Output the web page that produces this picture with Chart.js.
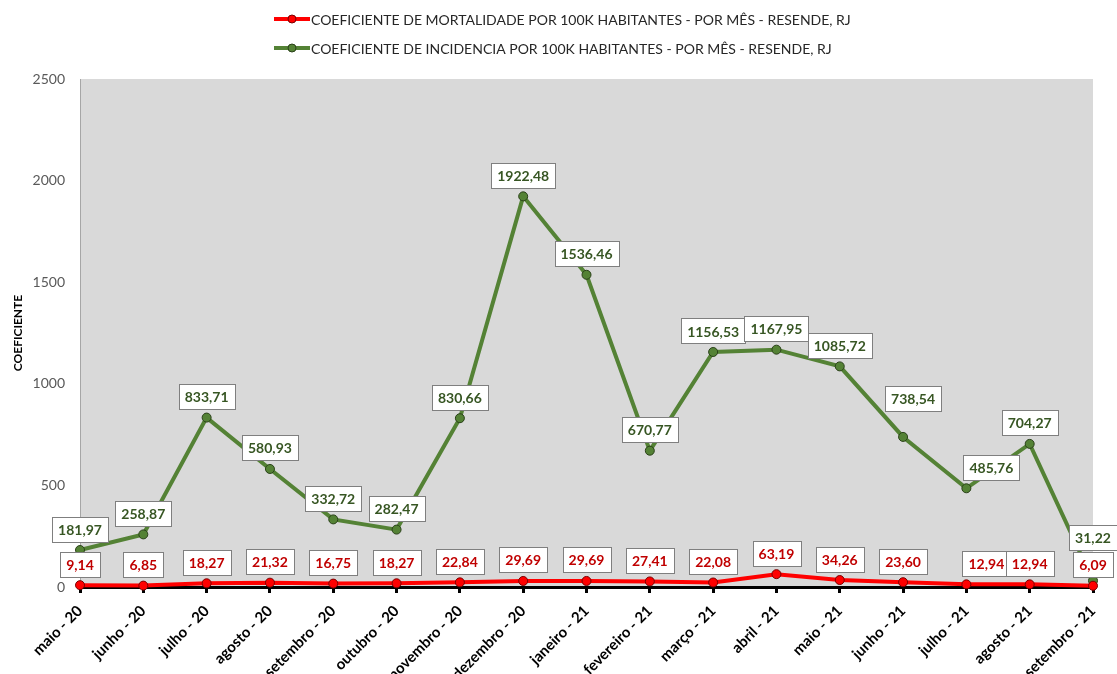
<!DOCTYPE html>
<html><head><meta charset="utf-8">
<script src="https://cdn.jsdelivr.net/npm/chart.js@4"></script>
<style>html,body{margin:0;padding:0;background:#fff}</style>
</head><body>
<canvas id="c" width="1117" height="674"></canvas>
<script>
const categories = ['maio - 20','junho - 20','julho - 20','agosto - 20','setembro - 20','outubro - 20','novembro - 20','dezembro - 20','janeiro - 21','fevereiro - 21','março - 21','abril - 21','maio - 21','junho - 21','julho - 21','agosto - 21','setembro - 21'];
const mortalidade = [9.14,6.85,18.27,21.32,16.75,18.27,22.84,29.69,29.69,27.41,22.08,63.19,34.26,23.60,12.94,12.94,6.09];
const incidencia = [181.97,258.87,833.71,580.93,332.72,282.47,830.66,1922.48,1536.46,670.77,1156.53,1167.95,1085.72,738.54,485.76,704.27,31.22];
const yTicks = [0,500,1000,1500,2000,2500];
const seriesNames = ['COEFICIENTE DE MORTALIDADE POR 100K HABITANTES - POR MÊS - RESENDE, RJ','COEFICIENTE DE INCIDENCIA POR 100K HABITANTES - POR MÊS - RESENDE, RJ'];
const yTitle = 'COEFICIENTE';

// label nudges (dx, dy) for data labels that were moved in the original
const labelNudge = [
  {14:[20,0]},
  {13:[10,-17],14:[25,0],16:[0,-22]}
];
const labelColors = ['#C00000','#375623'];

const fmt = v => v.toFixed(2).replace('.', ',');

const bgPlugin = {
  id:'bg',
  beforeDraw(chart){
    const {ctx, chartArea:a} = chart;
    ctx.save();
    ctx.fillStyle = '#d9d9d9';
    ctx.fillRect(a.left, a.top, a.right-a.left, a.bottom-a.top);
    ctx.restore();
  }
};

const legendPlugin = {
  id:'customLegend',
  afterDraw(chart){
    const ctx = chart.ctx;
    ctx.save();
    chart.data.datasets.forEach((ds,i)=>{
      const y = 19 + i*29;
      ctx.strokeStyle = ds.borderColor;
      ctx.lineWidth = 4;
      ctx.beginPath(); ctx.moveTo(274,y); ctx.lineTo(310,y); ctx.stroke();
      ctx.fillStyle = ds.pointBackgroundColor;
      ctx.strokeStyle = ds.pointBorderColor;
      ctx.lineWidth = 1;
      ctx.beginPath(); ctx.arc(292,y,4,0,Math.PI*2); ctx.fill(); ctx.stroke();
      ctx.fillStyle = '#262626';
      ctx.font = '14px Lato';
      ctx.textBaseline = 'middle';
      ctx.textAlign = 'left';
      ctx.fillText(ds.label, 311, y+1);
    });
    ctx.restore();
  }
};

const labelPlugin = {
  id:'dataLabels',
  afterDatasetsDraw(chart){
    const ctx = chart.ctx;
    ctx.save();
    ctx.font = 'bold 14px Lato';
    ctx.textAlign = 'center';
    ctx.textBaseline = 'middle';
    [1,0].forEach(di=>{
      const meta = chart.getDatasetMeta(di);
      const ds = chart.data.datasets[di];
      meta.data.forEach((pt,i)=>{
        const n = labelNudge[di][i] || [0,0];
        const txt = fmt(ds.data[i]);
        const w = ctx.measureText(txt).width + 12;
        const h = 25;
        const cx = pt.x + n[0];
        const cy = pt.y - 21 + n[1];
        ctx.fillStyle = '#ffffff';
        ctx.fillRect(Math.round(cx-w/2)+0.5, Math.round(cy-h/2)+0.5, Math.round(w), h);
        ctx.strokeStyle = '#7f7f7f';
        ctx.lineWidth = 1;
        ctx.strokeRect(Math.round(cx-w/2)+0.5, Math.round(cy-h/2)+0.5, Math.round(w), h);
        ctx.fillStyle = labelColors[di];
        ctx.fillText(txt, cx, cy+1);
      });
    });
    ctx.restore();
  }
};

new Chart(document.getElementById('c'), {
  type:'line',
  data:{
    labels: categories,
    datasets:[
      {label: seriesNames[0], data: mortalidade, borderColor:'#ff0000', backgroundColor:'#ff0000', borderWidth:4,
       pointRadius:4.5, pointBackgroundColor:'#ff0000', pointBorderColor:'#7a0000', pointBorderWidth:1, tension:0, clip:false},
      {label: seriesNames[1], data: incidencia, borderColor:'#548235', backgroundColor:'#548235', borderWidth:4,
       pointRadius:4.5, pointBackgroundColor:'#548235', pointBorderColor:'#2a4119', pointBorderWidth:1, tension:0, clip:false}
    ]
  },
  options:{
    responsive:false,
    animation:false,
    devicePixelRatio:1,
    layout:{padding:{top:79,right:24,left:0,bottom:0}},
    plugins:{legend:{display:false}, tooltip:{enabled:false}},
    scales:{
      x:{
        offset:false,
        grid:{display:true, drawOnChartArea:false, drawTicks:true, tickLength:6, color:'#000', lineWidth:3},
        border:{display:true, color:'#000', width:3},
        ticks:{color:'#000', font:{family:'Lato', size:15, weight:'bold'}, minRotation:45, maxRotation:45, padding:9, autoSkip:false},
        afterFit(s){ s.height = 87; }
      },
      y:{
        min:0, max:2500,
        grid:{display:false, drawTicks:false},
        border:{display:true, color:'#a6a6a6', width:1},
        ticks:{color:'#595959', font:{family:'Lato', size:14}, padding:15, callback:v=>String(v)},
        afterBuildTicks(s){ s.ticks = yTicks.map(v=>({value:v})); },
        title:{display:true, text:yTitle, color:'#000', font:{family:'Lato', size:12, weight:'bold'}, padding:{top:11,bottom:0}},
        afterFit(s){ s.width = 80; }
      }
    }
  },
  plugins:[bgPlugin, labelPlugin, legendPlugin]
});
</script>
</body></html>
